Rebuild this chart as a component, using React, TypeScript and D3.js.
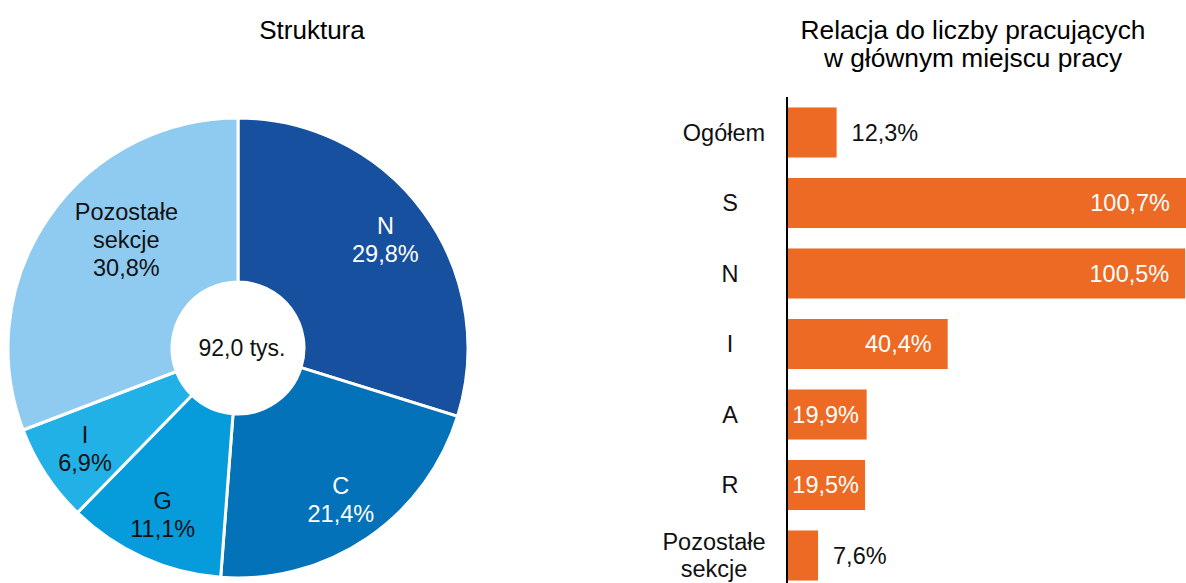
import React from 'react';
import * as d3 from 'd3';

// Struktura (pie)
const pieLabels = ['N', 'C', 'G', 'I', 'Pozostałe\nsekcje'];
const pieValues = [29.8, 21.4, 11.1, 6.9, 30.8];
const pieColors = ['#16509f', '#0372b9', '#069cdc', '#22b1e6', '#8fcbf1'];
const pieTextColors = ['#fff', '#fff', '#111', '#111', '#111'];
const centerLabel = '92,0 tys.';

// Relacja do liczby pracujących (bars)
const barCategories = ['Ogółem', 'S', 'N', 'I', 'A', 'R', 'Pozostałe\nsekcje'];
const barValues = [12.3, 100.7, 100.5, 40.4, 19.9, 19.5, 7.6];

const W = 1186;
const H = 583;
const font = '"Liberation Sans", Arial, sans-serif';
const fmt = (v: number) => v.toFixed(1).replace('.', ',') + '%';

// rough text width for Arial-like font at 23.5px
const textW = (s: string) => s.length * 13.2;

const App = () => {
  const cx = 238, cy = 348, rOuter = 230, rInner = 66;

  const pie = d3.pie<number>().sort(null).value(d => d)(pieValues);
  const arc = d3.arc<d3.PieArcDatum<number>>().innerRadius(rInner).outerRadius(rOuter);

  const x = d3.scaleLinear().domain([0, 100.7]).range([788, 1186]);
  const y = d3.scaleBand<string>()
    .domain(barCategories)
    .range([97.25, 590.75])
    .paddingInner(0.29)
    .paddingOuter(0.145);

  return (
    <svg width={W} height={H} style={{ position: 'absolute', left: 0, top: 0, fontFamily: font }}>
      <rect width={W} height={H} fill="#fff" />

      <text x={312} y={39} textAnchor="middle" fontSize={26}>Struktura</text>
      <text x={973} y={39} textAnchor="middle" fontSize={26.3}>Relacja do liczby pracujących</text>
      <text x={973} y={67} textAnchor="middle" fontSize={26.3}>w głównym miejscu pracy</text>

      <g transform={`translate(${cx},${cy})`}>
        {pie.map((d, i) => (
          <path key={i} d={arc(d) || ''} fill={pieColors[i]} stroke="#fff" strokeWidth={3} />
        ))}
        {pie.map((d, i) => {
          const lines = [...pieLabels[i].split('\n'), fmt(pieValues[i])];
          const multi = lines.length > 2;
          const r = multi ? 155 : 183;
          let [lx, ly] = d3.arc<d3.PieArcDatum<number>>().innerRadius(r).outerRadius(r).centroid(d);
          // best-fit nudge for the tall label, as the source chart does
          if (multi) { lx += 16; ly -= 20; }
          const lh = 28;
          const y0 = ly - ((lines.length - 1) * lh) / 2;
          return (
            <text key={i} textAnchor="middle" fontSize={23.5} fill={pieTextColors[i]}>
              {lines.map((s, j) => (
                <tspan key={j} x={lx} y={y0 + j * lh} dy="0.35em">{s}</tspan>
              ))}
            </text>
          );
        })}
        <text x={4} y={0} dy="0.35em" textAnchor="middle" fontSize={23} fill="#111">{centerLabel}</text>
      </g>

      <g>
        {barCategories.map((c, i) => {
          const by = y(c) as number;
          const bw = y.bandwidth();
          const x1 = x(barValues[i]);
          const label = fmt(barValues[i]);
          const tw = textW(label);
          const inside = x1 - x(0) > 60;
          let lx = x1 - 16;
          if (inside && lx - tw < x(0) + 5) lx = x(0) + 5 + tw;
          const lines = c.split('\n');
          const lh = 27;
          const cyy = by + bw / 2;
          const labelX = lines.length > 1 ? 714 : (c.length > 2 ? 724 : 730);
          return (
            <g key={c}>
              <rect x={x(0)} y={by} width={x1 - x(0)} height={bw} fill="#ec6a23" />
              <text
                x={inside ? lx : x1 + 15}
                y={cyy}
                dy="0.35em"
                textAnchor={inside ? 'end' : 'start'}
                fontSize={23.5}
                fill={inside ? '#fff' : '#111'}
              >{label}</text>
              <text textAnchor="middle" fontSize={23.5} fill="#111">
                {lines.map((s, j) => (
                  <tspan key={j} x={labelX} y={cyy - ((lines.length - 1) * lh) / 2 + j * lh} dy="0.35em">{s}</tspan>
                ))}
              </text>
            </g>
          );
        })}
        <line x1={787} x2={787} y1={97} y2={H} stroke="#000" strokeWidth={2} />
      </g>
    </svg>
  );
};

export default App;
